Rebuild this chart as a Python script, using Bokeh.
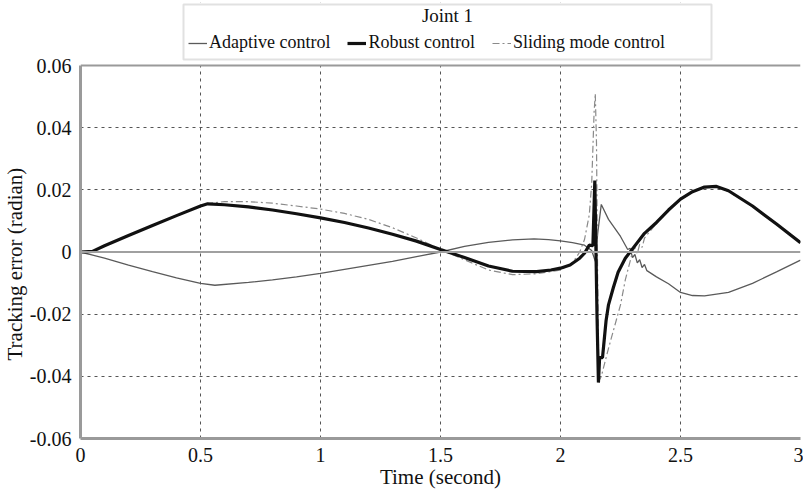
from bokeh.plotting import figure
from bokeh.models import (Legend, LegendItem, FixedTicker, Span, BoxAnnotation, Label, Title)
from bokeh.embed import file_html
from bokeh.resources import INLINE

# ---------------- data ----------------
t_robust = [0, 0.05, 0.1, 0.2, 0.3, 0.4, 0.5, 0.53, 0.6, 0.7, 0.8, 0.9, 1.0, 1.1, 1.2, 1.3,
            1.4, 1.5, 1.55, 1.6, 1.7, 1.8, 1.9, 1.96, 2.0, 2.04, 2.08, 2.10, 2.12, 2.135,
            2.143, 2.152, 2.158, 2.163, 2.175, 2.18, 2.19, 2.2, 2.22, 2.24, 2.27, 2.3, 2.35,
            2.4, 2.45, 2.5, 2.55, 2.6, 2.65, 2.7, 2.8, 2.9, 3.0]
e_robust = [0, 0.0002, 0.002, 0.0053, 0.0085, 0.0117, 0.0148, 0.0155, 0.0152, 0.0145, 0.0135,
            0.0123, 0.011, 0.0095, 0.0077, 0.0057, 0.0035, 0.0008, -0.0005, -0.0018, -0.0045,
            -0.0062, -0.0063, -0.0058, -0.0052, -0.0042, -0.002, -0.0004, 0.0022, 0.002,
            0.023, -0.02, -0.042, -0.034, -0.034, -0.03, -0.022, -0.017, -0.0115, -0.0065,
            -0.002, 0.001, 0.006, 0.0095, 0.0135, 0.017, 0.0194, 0.0209, 0.0211, 0.0197,
            0.0148, 0.009, 0.003]

t_adaptive = [0, 0.1, 0.2, 0.3, 0.4, 0.5, 0.56, 0.7, 0.8, 0.9, 1.0, 1.1, 1.2, 1.3, 1.4, 1.5,
              1.6, 1.7, 1.8, 1.89, 1.95, 2.0, 2.05, 2.1, 2.13, 2.145, 2.155, 2.17, 2.2, 2.25,
              2.28, 2.29, 2.30, 2.31, 2.32, 2.33, 2.34, 2.35, 2.36, 2.4, 2.45, 2.5, 2.55, 2.6,
              2.7, 2.8, 2.9, 3.0]
e_adaptive = [0, -0.002, -0.0042, -0.0063, -0.0083, -0.0101, -0.0107, -0.0098, -0.009, -0.008,
              -0.0069, -0.0056, -0.0043, -0.003, -0.0015, 0.0, 0.0018, 0.0031, 0.0039, 0.0042,
              0.004, 0.0036, 0.003, 0.0022, 0.0005, -0.003, 0.006, 0.0153, 0.0105, 0.005,
              0.0008, 0.0012, -0.0018, -0.0008, -0.0035, -0.0025, -0.005, -0.004, -0.006,
              -0.008, -0.0102, -0.013, -0.014, -0.0141, -0.013, -0.0101, -0.0064, -0.0026]

t_sliding = [0, 0.05, 0.1, 0.2, 0.3, 0.4, 0.5, 0.55, 0.6, 0.7, 0.8, 0.9, 1.0, 1.1, 1.2, 1.3,
             1.4, 1.5, 1.6, 1.7, 1.8, 1.9, 2.0, 2.05, 2.08, 2.1, 2.12, 2.13, 2.14, 2.145, 2.15,
             2.155, 2.16, 2.17, 2.2, 2.225, 2.25, 2.27, 2.29, 2.30, 2.31, 2.32, 2.33, 2.34,
             2.35, 2.4, 2.45, 2.5, 2.55, 2.6, 2.65, 2.7, 2.8, 2.9, 3.0]
e_sliding = [0, 0.0002, 0.002, 0.0053, 0.0085, 0.0117, 0.0148, 0.0158, 0.0162, 0.0162, 0.0157,
             0.0148, 0.0138, 0.0124, 0.0105, 0.0078, 0.0045, 0.0008, -0.0025, -0.0058, -0.0073,
             -0.007, -0.0058, -0.0035, 0.0, 0.004, 0.012, 0.022, 0.045, 0.051, 0.035, -0.01,
             -0.0415, -0.04, -0.031, -0.024, -0.017, -0.009, -0.003, 0.0, 0.0015, -0.0005,
             0.0025, 0.0015, 0.0045, 0.0092, 0.0133, 0.0168, 0.0192, 0.0207, 0.0209, 0.0195,
             0.0146, 0.0089, 0.003]

x_ticks = [0, 0.5, 1, 1.5, 2, 2.5, 3]
x_tick_labels = ["0", "0.5", "1", "1.5", "2", "2.5", "3"]
y_ticks = [-0.06, -0.04, -0.02, 0, 0.02, 0.04, 0.06]
y_tick_labels = ["-0.06", "-0.04", "-0.02", "0", "0.02", "0.04", "0.06"]

legend_title = "Joint 1"
series_names = ["Adaptive control", "Robust control", "Sliding mode control"]
x_title = "Time (second)"
y_title = "Tracking error (radian)"

# ---------------- layout constants (pixels) ----------------
FONT = "Liberation Serif"
W, H = 803, 491
FL, FR = 79, 800          # frame left / right
AX_TOP, FB = 65, 438      # top of the axes box (y = 0.06) / frame bottom
FT = 2                    # frame top (frame extends up to host the legend)
Y0, Y1 = y_ticks[0], y_ticks[-1]
px_per_unit = (FB - AX_TOP) / (Y1 - Y0)
y_top = Y0 + (FB - FT) / px_per_unit

p = figure(width=W, height=H, x_range=(x_ticks[0], x_ticks[-1]), y_range=(Y0, y_top),
           output_backend="svg", toolbar_location=None,
           min_border_left=FL, min_border_right=W - FR, min_border_top=FT,
           min_border_bottom=H - FB)
p.background_fill_color = "white"
p.border_fill_color = "white"
p.outline_line_color = None

# grids
p.xgrid.ticker = FixedTicker(ticks=[v for v in x_ticks if x_ticks[0] < v < x_ticks[-1]])
p.ygrid.ticker = FixedTicker(ticks=[v for v in y_ticks if v not in (0, Y0, Y1)])
for g in (p.xgrid, p.ygrid):
    g.grid_line_color = "#555555"
    g.grid_line_dash = "3 4"
    g.grid_line_width = 1

p.add_layout(Span(location=0, dimension="width", line_color="#a0a0a0", line_width=2))

# axes
p.xaxis.ticker = FixedTicker(ticks=x_ticks)
p.xaxis.major_label_overrides = {v: s for v, s in zip(x_ticks, x_tick_labels)}
p.yaxis.ticker = FixedTicker(ticks=y_ticks)
p.yaxis.major_label_overrides = {v: s for v, s in zip(y_ticks, y_tick_labels)}
p.yaxis.bounds = (Y0, Y1)
p.xaxis.axis_label = x_title
for ax in (p.xaxis, p.yaxis):
    ax.axis_line_color = "#9a9a9a"
    ax.axis_line_width = 3
    ax.major_tick_line_color = None
    ax.minor_tick_line_color = None
    ax.major_label_text_font = FONT
    ax.major_label_text_font_size = "20px"
    ax.major_label_text_color = "#111111"
p.xaxis.axis_label_text_font = FONT
p.xaxis.axis_label_text_font_size = "21px"
p.xaxis.axis_label_text_font_style = "normal"
p.xaxis.axis_label_text_color = "#111111"
p.xaxis.major_label_standoff = 3
p.xaxis.axis_label_standoff = 0
p.yaxis.major_label_standoff = 3

# y title: a vertical Title in the left border, starting where the reference's text starts
y_title_bottom = 360
p.add_layout(Title(text=y_title, align="left", offset=FB - y_title_bottom, standoff=0,
                   text_font=FONT, text_font_size="21px", text_font_style="normal",
                   text_color="#111111"), "left")

# lines
r_ad = p.line(t_adaptive, e_adaptive, line_color="#5a5a5a", line_width=1.3)
r_sl = p.line(t_sliding, e_sliding, line_color="#8a8a8a", line_width=1.2, line_dash="7 3 2 3")
r_ro = p.line(t_robust, e_robust, line_color="#111111", line_width=3.2)

# white area above the axes box (hosts the legend), then the top edge of the box
p.add_layout(BoxAnnotation(bottom=Y1, fill_color="white", fill_alpha=1, line_color=None))
p.add_layout(Span(location=Y1, dimension="width", line_color="#9a9a9a", line_width=2))

# legend box (screen units are relative to the frame: x from left, y from bottom)
box_l, box_r, box_t, box_b = 182, 710, 4, 59
p.add_layout(BoxAnnotation(left=box_l - FL, right=box_r - FL, top=FB - box_t, bottom=FB - box_b,
                           left_units="screen", right_units="screen",
                           top_units="screen", bottom_units="screen",
                           fill_color="white", fill_alpha=1,
                           line_color="#9a9a9a", line_width=2))
p.add_layout(Label(x=(box_l + box_r) / 2 - FL, y=FB - 15, x_units="screen", y_units="screen",
                   text=legend_title, text_font=FONT, text_font_size="19px",
                   text_align="center", text_baseline="middle", text_color="#111111"))

legend = Legend(items=[LegendItem(label=series_names[0], renderers=[r_ad]),
                       LegendItem(label=series_names[1], renderers=[r_ro]),
                       LegendItem(label=series_names[2], renderers=[r_sl])],
                orientation="horizontal", location=(187 - FL, FB - 53))
legend.label_text_font = FONT
legend.label_text_font_size = "18px"
legend.label_text_color = "#111111"
legend.label_standoff = 2
legend.label_height = 18
legend.glyph_height = 18
legend.glyph_width = 19
legend.spacing = 17
legend.padding = 0
legend.margin = 0
legend.border_line_color = None
legend.background_fill_alpha = 0
p.add_layout(legend, "center")

open("out.html", "w").write(file_html(p, INLINE))
